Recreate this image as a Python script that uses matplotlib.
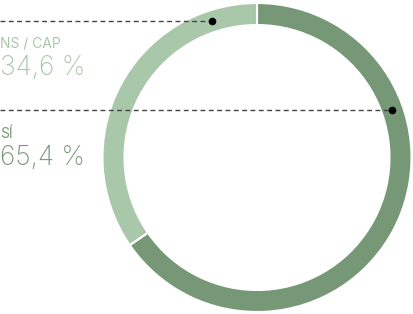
import numpy as np
import matplotlib.pyplot as plt

# data
labels = ["SÍ", "NS / CAP"]
values = [65.4, 34.6]
value_text = ["65,4 %", "34,6 %"]
colors = ["#779877", "#a9c8a9"]

W, H = 413, 314
fig = plt.figure(figsize=(W / 100, H / 100), dpi=100)
ax = fig.add_axes([0, 0, 1, 1])
ax.set_xlim(0, W)
ax.set_ylim(0, H)
ax.axis("off")

cx, cy, r, ring = 257, 156.5, 154.5, 22
ax.pie(values, colors=colors, startangle=90, counterclock=False,
       center=(cx, cy), radius=r,
       wedgeprops=dict(width=ring, edgecolor="white", linewidth=1.5))
ax.set_xlim(0, W)
ax.set_ylim(0, H)
ax.set_aspect("equal")

# leader lines: (label row y, angle on ring measured from top, clockwise)
leaders = {"NS / CAP": (293, -18.3), "SÍ": (204, 70.3)}
text_rows = {"NS / CAP": (266, 239), "SÍ": (176, 149)}
rm = r - ring / 2
for lab, val, col in zip(labels, value_text, colors):
    ly, ang = leaders[lab]
    px = cx + rm * np.sin(np.radians(ang))
    ax.plot([0, px], [ly, ly], ls=(0, (3.5, 2.5)), color="#444444", lw=1)
    ax.plot(px, ly, "o", color="black", ms=4.5)
    y1, y2 = text_rows[lab]
    ax.text(0, y1, lab, color=col, fontsize=10, family="Inter",
            fontweight="normal", va="baseline", ha="left")
    ax.text(0, y2, val, color=col, fontsize=19, family="Inter",
            fontweight="light", va="baseline", ha="left")

fig.savefig("out.png", dpi=100)
